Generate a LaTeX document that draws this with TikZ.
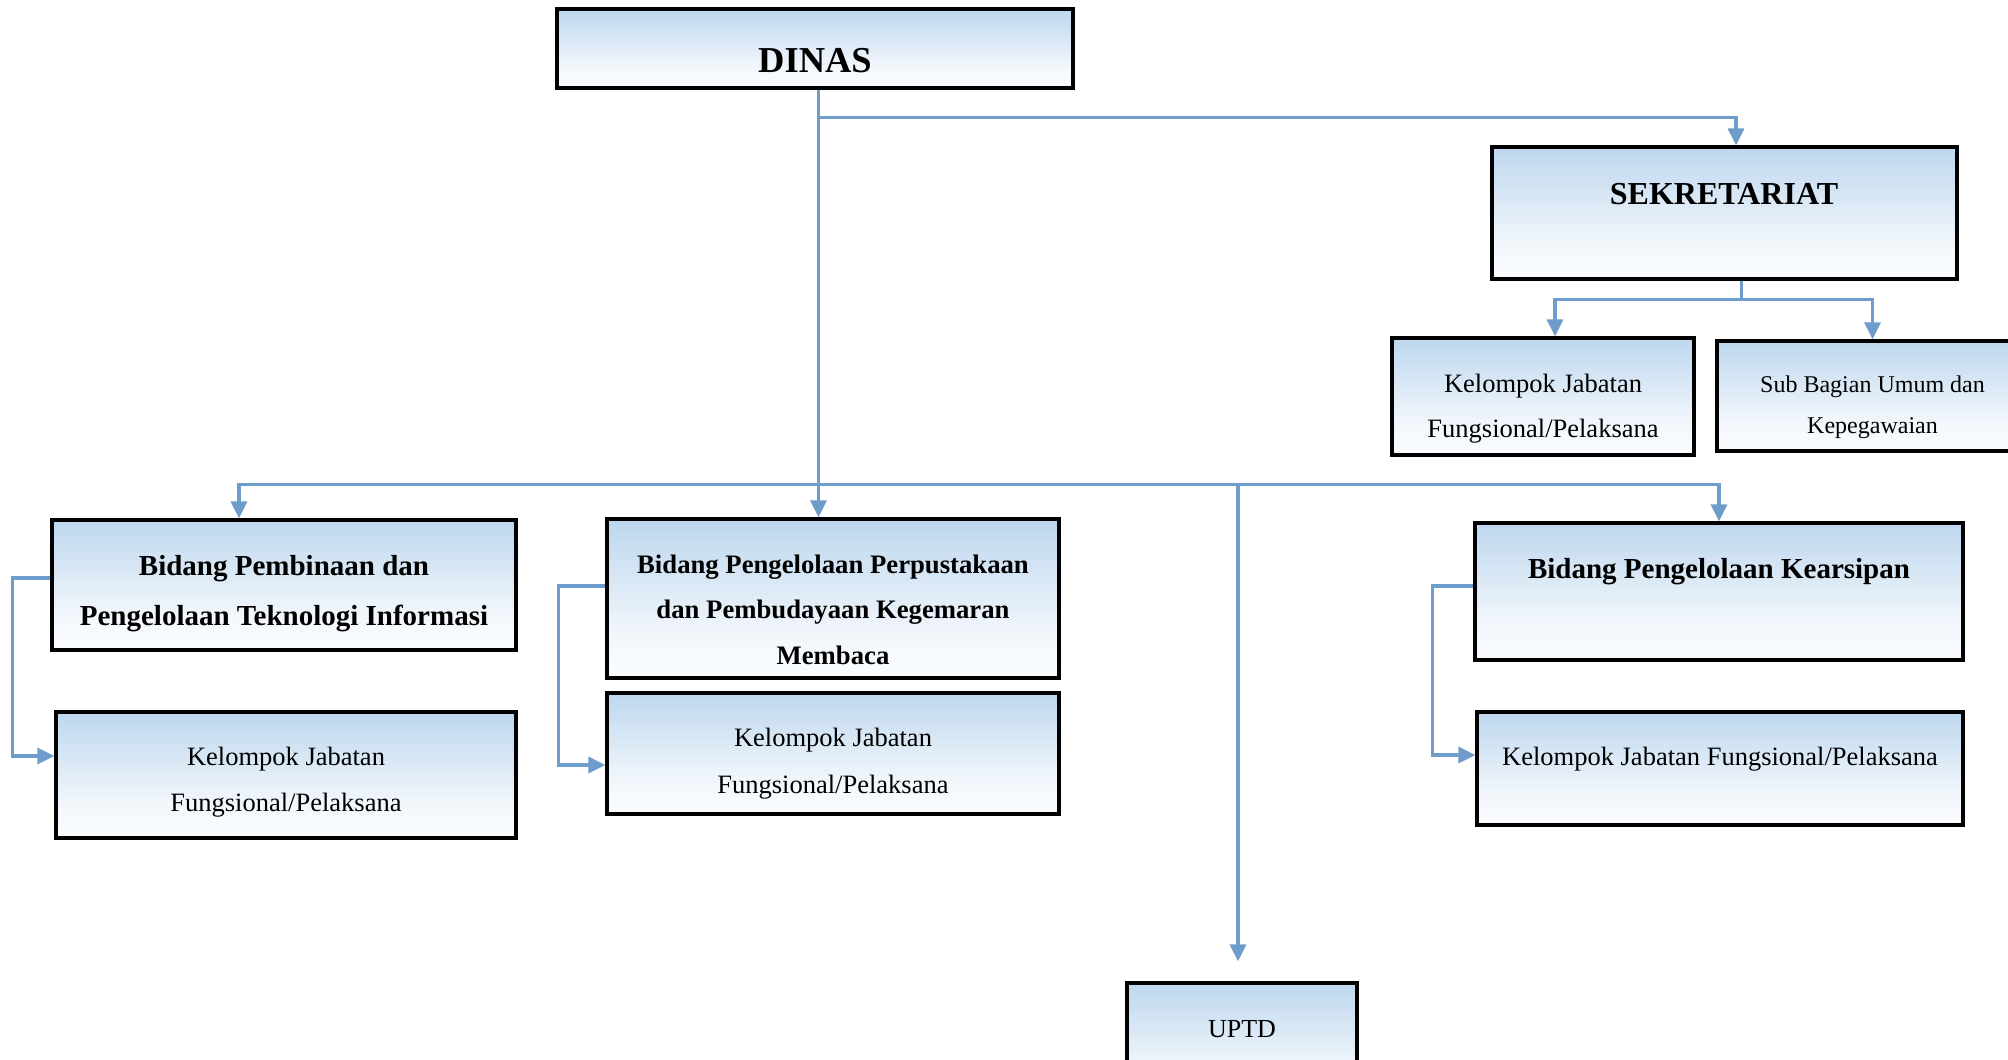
\documentclass[tikz,border=0pt]{standalone}
\usepackage{fontspec}
\setmainfont{Liberation Serif}
\usetikzlibrary{arrows.meta,calc}
\definecolor{boxtop}{HTML}{BDD7EE}
\definecolor{boxmid}{HTML}{F3F7FC}
\definecolor{boxbot}{HTML}{FAFCFF}
\definecolor{conncol}{HTML}{6E9CCB}
\pgfdeclareverticalshading{boxshade}{100bp}{color(0bp)=(boxbot); color(25bp)=(boxbot); color(38bp)=(boxmid); color(75bp)=(boxtop); color(100bp)=(boxtop)}
\begin{document}
\begin{tikzpicture}[x=1pt,y=-1pt,
  box/.style={draw=black, line width=3.2pt, shade, shading=boxshade, inner sep=0pt},
  conn/.style={draw=conncol, line width=3.2pt, -{Triangle[length=17pt,width=16pt]}},
  lbl/.style={inner sep=0pt, anchor=base},
  reg/.style={lbl, font=\fontsize{26.5}{30}\selectfont},
  small/.style={lbl, font=\fontsize{24}{28}\selectfont},
  bld/.style={lbl, font=\fontsize{29}{33}\selectfont\bfseries},
  bldsm/.style={lbl, font=\fontsize{26.7}{31}\selectfont\bfseries}]
\useasboundingbox (0,0) rectangle (2008,1060);
\clip (0,0) rectangle (2008,1060);

% boxes
\node[box, minimum width=516pt, minimum height=79pt] (dinas) at (815,48.5) {};
\node[box, minimum width=465pt, minimum height=132pt] (sek) at (1724.5,213) {};
\node[box, minimum width=302pt, minimum height=117pt] (kjsek) at (1543,396.5) {};
\node[box, minimum width=311pt, minimum height=110pt] (subbag) at (1872.5,396) {};
\node[box, minimum width=464pt, minimum height=130pt] (pemb) at (284,585) {};
\node[box, minimum width=460pt, minimum height=126pt] (kjl) at (286,775) {};
\node[box, minimum width=452pt, minimum height=159pt] (perp) at (833,598.5) {};
\node[box, minimum width=452pt, minimum height=121pt] (kjm) at (833,753.5) {};
\node[box, minimum width=488pt, minimum height=137pt] (kear) at (1719,591.5) {};
\node[box, minimum width=486pt, minimum height=113pt] (kjr) at (1720,768.5) {};
\node[box, minimum width=230pt, minimum height=117pt] (uptd) at (1242,1041.5) {};

% texts
\node[lbl, font=\fontsize{36.5}{40}\selectfont\bfseries] (tdinas) at (815,72) {DINAS};
\node[lbl, font=\fontsize{32}{36}\selectfont\bfseries] (tsek) at (1724,204) {SEKRETARIAT};
\node[reg] (tkjsek1) at (1543,392) {Kelompok Jabatan};
\node[reg] (tkjsek2) at (1543,437) {Fungsional/Pelaksana};
\node[small] (tsub1) at (1872.5,392) {Sub Bagian Umum dan};
\node[small] (tsub2) at (1872.5,433) {Kepegawaian};
\node[bld] (tpemb1) at (284,575) {Bidang Pembinaan dan};
\node[bld] (tpemb2) at (284,625) {Pengelolaan Teknologi Informasi};
\node[reg] (tkjl1) at (286,765) {Kelompok Jabatan};
\node[reg] (tkjl2) at (286,811) {Fungsional/Pelaksana};
\node[bldsm] (tperp1) at (833,573) {Bidang Pengelolaan Perpustakaan};
\node[bldsm] (tperp2) at (833,618) {dan Pembudayaan Kegemaran};
\node[bldsm] (tperp3) at (833,664) {Membaca};
\node[reg] (tkjm1) at (833,746) {Kelompok Jabatan};
\node[reg] (tkjm2) at (833,793) {Fungsional/Pelaksana};
\node[bld] (tkear) at (1719,578) {Bidang Pengelolaan Kearsipan};
\node[reg] (tkjr) at (1720,765) {Kelompok Jabatan Fungsional/Pelaksana};
\node[lbl, font=\fontsize{26}{30}\selectfont] (tuptd) at (1242,1037) {UPTD};

% connectors
\coordinate (tr) at ($(dinas.south)+(3.5,0)$);
\coordinate (j1) at ($(tr)+(0,28)$);
\coordinate (j2) at ($(tr)+(0,395)$);
\draw[conn] (tr) -- (tr |- perp.north);
\draw[conn] (j1) -| ($(sek.north)+(11.5,0)$);
\draw[conn] ($(sek.south)+(17,0)$) -- ++(0,19) coordinate (s1) -| ($(kjsek.north)+(12,0)$);
\draw[conn] (s1) -| (subbag.north);
\draw[conn] (j2) -| ($(pemb.north)+(-45,0)$);
\draw[conn] (j2) -| (kear.north);
\draw[conn] ($(j2 -| uptd.north)+(-4,0)$) -- ($(uptd.north)+(-4,-20)$);
\draw[conn] ($(pemb.west)+(0,-7)$) -- ++(-38,0) |- ($(kjl.west)+(0,-19)$);
\draw[conn] ($(perp.west)+(0,-12.5)$) -- ++(-47,0) |- ($(kjm.west)+(0,11.5)$);
\draw[conn] ($(kear.west)+(0,-5.5)$) -- ++(-41,0) |- ($(kjr.west)+(0,-13.5)$);
\end{tikzpicture}
\end{document}
